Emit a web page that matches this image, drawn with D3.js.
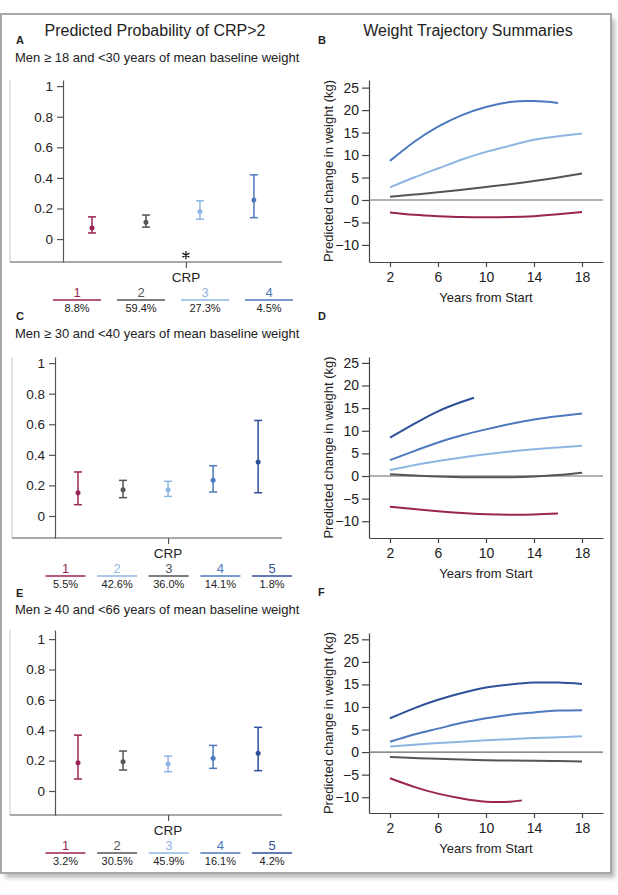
<!DOCTYPE html>
<html>
<head>
<meta charset="utf-8">
<script src="https://cdn.jsdelivr.net/npm/d3@7"></script>
<style>
  body { margin: 0; background: #fff; }
  text { font-family: "Liberation Sans", Arial, sans-serif; fill: #222; }
</style>
</head>
<body>
<svg id="chart" width="618" height="895"></svg>
<script>
// ---- data ----
// predicted probability of CRP>2, per CRP group
const crpA = [1, 2, 3, 4];
const typeA = ["loss", "stable", "slow", "moderate"];
const probA = [0.072, 0.11, 0.18, 0.255];
const lowA = [0.04, 0.078, 0.13, 0.14];
const highA = [0.145, 0.157, 0.25, 0.42];

const crpC = [1, 2, 3, 4, 5];
const typeC = ["loss", "stable", "slow", "moderate", "rapid"];
const probC = [0.152, 0.172, 0.172, 0.233, 0.353];
const lowC = [0.074, 0.12, 0.128, 0.157, 0.152];
const highC = [0.288, 0.233, 0.227, 0.329, 0.625];

const crpE = [1, 2, 3, 4, 5];
const typeE = ["loss", "stable", "slow", "moderate", "rapid"];
const probE = [0.186, 0.193, 0.178, 0.215, 0.248];
const lowE = [0.079, 0.138, 0.127, 0.149, 0.134];
const highE = [0.368, 0.263, 0.23, 0.30, 0.419];

// legend under each probability panel
const legNumA = ["1", "2", "3", "4"];
const legTypeA = ["loss", "stable", "slow", "moderate"];
const legPctA = ["8.8%", "59.4%", "27.3%", "4.5%"];
const legNumC = ["1", "2", "3", "4", "5"];
const legTypeC = ["loss", "slow", "stable", "moderate", "rapid"];
const legPctC = ["5.5%", "42.6%", "36.0%", "14.1%", "1.8%"];
const legNumE = ["1", "2", "3", "4", "5"];
const legTypeE = ["loss", "stable", "slow", "moderate", "rapid"];
const legPctE = ["3.2%", "30.5%", "45.9%", "16.1%", "4.2%"];

const probTicks = [0, 0.2, 0.4, 0.6, 0.8, 1];

// weight trajectories (kg change vs years)
const yearsEven = [2, 4, 6, 8, 10, 12, 14, 16, 18];
const bModerate = [8.7, 12.9, 16.3, 18.9, 20.7, 21.8, 22.0, 21.6];
const bSlow = [2.8, 5.0, 7.0, 9.0, 10.7, 12.1, 13.4, 14.2, 14.8];
const bStable = [0.7, 1.2, 1.7, 2.3, 2.9, 3.5, 4.2, 5.0, 5.9];
const bLoss = [-2.8, -3.3, -3.6, -3.8, -3.85, -3.8, -3.6, -3.2, -2.7];

const dRapidYears = [2, 4, 6, 8, 9];
const dRapid = [8.5, 11.5, 14.3, 16.4, 17.3];
const dModerate = [3.5, 5.5, 7.4, 9.0, 10.3, 11.5, 12.5, 13.2, 13.8];
const dSlow = [1.3, 2.4, 3.3, 4.1, 4.8, 5.4, 5.9, 6.3, 6.7];
const dStable = [0.4, 0.1, -0.1, -0.25, -0.3, -0.25, -0.1, 0.2, 0.7];
const dLoss = [-6.8, -7.3, -7.8, -8.2, -8.45, -8.55, -8.5, -8.3];

const fRapid = [7.5, 9.7, 11.6, 13.1, 14.3, 15.0, 15.4, 15.4, 15.1];
const fModerate = [2.3, 3.9, 5.2, 6.5, 7.5, 8.3, 8.8, 9.2, 9.3];
const fSlow = [1.26, 1.65, 2.0, 2.3, 2.6, 2.85, 3.1, 3.3, 3.5];
const fStable = [-1.1, -1.3, -1.5, -1.65, -1.8, -1.85, -1.9, -2.0, -2.1];
const fLossYears = [2, 4, 6, 8, 10, 12, 13];
const fLoss = [-5.8, -7.7, -9.2, -10.3, -11.0, -11.0, -10.7];

const yearTicks = [2, 6, 10, 14, 18];
const kgTicks = [-10, -5, 0, 5, 10, 15, 20, 25];

const palette = {
    loss: "#9a2453",
    stable: "#555555",
    slow: "#8fb6e3",
    moderate: "#4d79be",
    rapid: "#2f4f98"
};

const svg = d3.select("#chart");

// frame with a soft shadow
const defs = svg.append("defs");
defs.append("filter").attr("id", "blur")
    .append("feGaussianBlur").attr("stdDeviation", 2);
svg.append("rect")
    .attr("x", 5).attr("y", 19).attr("width", 610).attr("height", 859)
    .attr("fill", "#bdbdbd").attr("filter", "url(#blur)");
svg.append("rect")
    .attr("x", 1).attr("y", 14).attr("width", 610).attr("height", 859)
    .attr("fill", "#fff").attr("stroke", "#a8a8a8").attr("stroke-width", 2);

svg.append("text").attr("x", 155).attr("y", 36).attr("text-anchor", "middle")
    .style("font-size", "16px").text("Predicted Probability of CRP>2");
svg.append("text").attr("x", 468).attr("y", 36).attr("text-anchor", "middle")
    .style("font-size", "16px").text("Weight Trajectory Summaries");

function panelLetter(x, y, t) {
    svg.append("text").attr("x", x).attr("y", y)
        .style("font-size", "11px").style("font-weight", "bold").text(t);
}

function drawProb(lay, crp, types, est, low, high, legNum, legType, legPct, star) {
    const g = svg.append("g");
    const y = d3.scaleLinear().domain(lay.yDom).range([lay.bottom, lay.top]);
    const x = d3.scaleLinear().domain(lay.xDom).range([lay.axisX, lay.right]);

    g.append("text").attr("x", 15).attr("y", lay.subY)
        .style("font-size", "13px").text(lay.subtitle);

    // outer light frame line + bottom line
    g.append("line").attr("x1", lay.outerX).attr("x2", lay.outerX)
        .attr("y1", lay.top).attr("y2", lay.bottom)
        .attr("stroke", "#c8c8c8").attr("stroke-width", 1);
    g.append("line").attr("x1", lay.outerX).attr("x2", lay.right)
        .attr("y1", lay.bottom).attr("y2", lay.bottom)
        .attr("stroke", "#555").attr("stroke-width", 1.2);

    const yAxis = g.append("g")
        .attr("transform", `translate(${lay.axisX},0)`)
        .call(d3.axisLeft(y).tickValues(probTicks).tickSize(6).tickSizeOuter(0)
            .tickPadding(4).tickFormat(d => String(d)));
    yAxis.selectAll("path, line").attr("stroke", "#555").attr("stroke-width", 1.2);
    yAxis.selectAll("text").style("font-size", "13.5px").attr("fill", "#222");

    const xAxis = g.append("g")
        .attr("transform", `translate(0,${lay.bottom})`)
        .call(d3.axisBottom(x).tickValues([lay.crpTick]).tickSize(6).tickFormat(""));
    xAxis.select(".domain").remove();
    xAxis.selectAll("line").attr("stroke", "#555").attr("stroke-width", 1.2);

    g.append("text").attr("x", x(lay.crpTick)).attr("y", lay.bottom + 20)
        .attr("text-anchor", "middle").style("font-size", "13.5px").text("CRP");

    if (star) {
        g.append("path")
            .attr("d", d3.symbol(d3.symbolAsterisk, 45)())
            .attr("transform", `translate(${x(lay.crpTick)},${y(star)})`)
            .attr("stroke", "#111").attr("stroke-width", 1.2).attr("fill", "none");
    }

    const rows = crp.map((c, i) => ({ c, t: types[i], e: est[i], lo: low[i], hi: high[i] }));
    const cap = 4;
    const grp = g.selectAll(".ci").data(rows).enter().append("g")
        .attr("stroke", d => palette[d.t]).attr("stroke-width", 1.5);
    grp.append("line").attr("x1", d => x(d.c)).attr("x2", d => x(d.c))
        .attr("y1", d => y(d.lo)).attr("y2", d => y(d.hi));
    grp.append("line").attr("x1", d => x(d.c) - cap).attr("x2", d => x(d.c) + cap)
        .attr("y1", d => y(d.lo)).attr("y2", d => y(d.lo));
    grp.append("line").attr("x1", d => x(d.c) - cap).attr("x2", d => x(d.c) + cap)
        .attr("y1", d => y(d.hi)).attr("y2", d => y(d.hi));
    grp.append("circle").attr("cx", d => x(d.c)).attr("cy", d => y(d.e))
        .attr("r", 2.5).attr("fill", d => palette[d.t]).attr("stroke", "none");

    // legend
    const lx = d3.scalePoint().domain(legNum).range([lay.legX0, lay.legX1]);
    const lg = g.selectAll(".leg").data(legNum).enter().append("g")
        .attr("transform", d => `translate(${lx(d)},${lay.legY})`);
    lg.append("line").attr("x1", -lay.legW / 2).attr("x2", lay.legW / 2)
        .attr("stroke", (d, i) => palette[legType[i]]).attr("stroke-width", 1.5);
    lg.append("text").attr("y", -3).attr("text-anchor", "middle")
        .style("font-size", "13px").style("fill", (d, i) => palette[legType[i]]).text(d => d);
    lg.append("text").attr("y", 12).attr("text-anchor", "middle")
        .style("font-size", "11px").text((d, i) => legPct[i]);
}

function drawTraj(lay, lines) {
    const g = svg.append("g");
    const x = d3.scaleLinear().domain([0.25, 19.75]).range([lay.left, lay.right]);
    const y = d3.scaleLinear().domain(lay.yDom).range([lay.bottom, lay.top]);

    const yAxis = g.append("g").attr("transform", `translate(${lay.left},0)`)
        .call(d3.axisLeft(y).tickValues(kgTicks).tickSize(7).tickSizeOuter(0).tickPadding(3)
            .tickFormat(d => d < 0 ? "\u2212" + Math.abs(d) : d));
    yAxis.selectAll("path, line").attr("stroke", "#444").attr("stroke-width", 1.2);
    yAxis.selectAll("text").style("font-size", "14px").attr("fill", "#222");

    const xAxis = g.append("g").attr("transform", `translate(0,${lay.bottom})`)
        .call(d3.axisBottom(x).tickValues(yearTicks).tickSize(5).tickSizeOuter(0).tickPadding(5));
    xAxis.selectAll("path, line").attr("stroke", "#444").attr("stroke-width", 1.2);
    xAxis.selectAll("text").style("font-size", "14px").attr("fill", "#222");

    g.append("line").attr("x1", lay.left).attr("x2", lay.right)
        .attr("y1", y(0)).attr("y2", y(0))
        .attr("stroke", "#666").attr("stroke-width", 1.2);

    g.append("text")
        .attr("transform", `translate(333,${(lay.top + lay.bottom) / 2}) rotate(-90)`)
        .attr("text-anchor", "middle").style("font-size", "13px")
        .text("Predicted change in weight (kg)");
    g.append("text").attr("x", x(10)).attr("y", lay.bottom + 40)
        .attr("text-anchor", "middle").style("font-size", "13px").text("Years from Start");

    const line = d3.line().x(d => x(d[0])).y(d => y(d[1])).curve(d3.curveNatural);
    lines.forEach(l => {
        const pts = l.kg.map((v, i) => [l.years[i], v]);
        g.append("path").attr("d", line(pts)).attr("fill", "none")
            .attr("stroke", palette[l.type]).attr("stroke-width", 2);
    });
}

// ---- panels ----
panelLetter(16, 44, "A");
panelLetter(318, 44, "B");
panelLetter(16, 320, "C");
panelLetter(318, 320, "D");
panelLetter(16, 597, "E");
panelLetter(318, 596, "F");

drawProb({
    subtitle: "Men \u2265 18 and <30 years of mean baseline weight", subY: 62,
    axisX: 63, outerX: 10, right: 282, top: 80, bottom: 262,
    yDom: [-0.15, 1.04], xDom: [0.463, 4.52], crpTick: 2.74,
    legY: 300, legX0: 77, legX1: 269, legW: 48
}, crpA, typeA, probA, lowA, highA, legNumA, legTypeA, legPctA, -0.105);

drawProb({
    subtitle: "Men \u2265 30 and <40 years of mean baseline weight", subY: 338,
    axisX: 55, outerX: 12, right: 282, top: 357, bottom: 538,
    yDom: [-0.144, 1.04], xDom: [0.489, 5.53], crpTick: 3,
    legY: 576, legX0: 65.5, legX1: 272, legW: 40
}, crpC, typeC, probC, lowC, highC, legNumC, legTypeC, legPctC, null);

drawProb({
    subtitle: "Men \u2265 40 and <66 years of mean baseline weight", subY: 614,
    axisX: 55, outerX: 10, right: 282, top: 630, bottom: 815,
    yDom: [-0.158, 1.06], xDom: [0.489, 5.53], crpTick: 3,
    legY: 853, legX0: 65.5, legX1: 272, legW: 40
}, crpE, typeE, probE, lowE, highE, legNumE, legTypeE, legPctE, null);

drawTraj({ left: 369, right: 603, top: 80, bottom: 262, yDom: [-13.8, 26.7] }, [
    { type: "loss", years: yearsEven, kg: bLoss },
    { type: "stable", years: yearsEven, kg: bStable },
    { type: "slow", years: yearsEven, kg: bSlow },
    { type: "moderate", years: yearsEven, kg: bModerate }
]);

drawTraj({ left: 369, right: 603, top: 357, bottom: 538, yDom: [-13.7, 26.3] }, [
    { type: "loss", years: yearsEven, kg: dLoss },
    { type: "stable", years: yearsEven, kg: dStable },
    { type: "slow", years: yearsEven, kg: dSlow },
    { type: "moderate", years: yearsEven, kg: dModerate },
    { type: "rapid", years: dRapidYears, kg: dRapid }
]);

drawTraj({ left: 369, right: 603, top: 633, bottom: 813, yDom: [-13.5, 26.4] }, [
    { type: "loss", years: fLossYears, kg: fLoss },
    { type: "stable", years: yearsEven, kg: fStable },
    { type: "slow", years: yearsEven, kg: fSlow },
    { type: "moderate", years: yearsEven, kg: fModerate },
    { type: "rapid", years: yearsEven, kg: fRapid }
]);
</script>
</body>
</html>
